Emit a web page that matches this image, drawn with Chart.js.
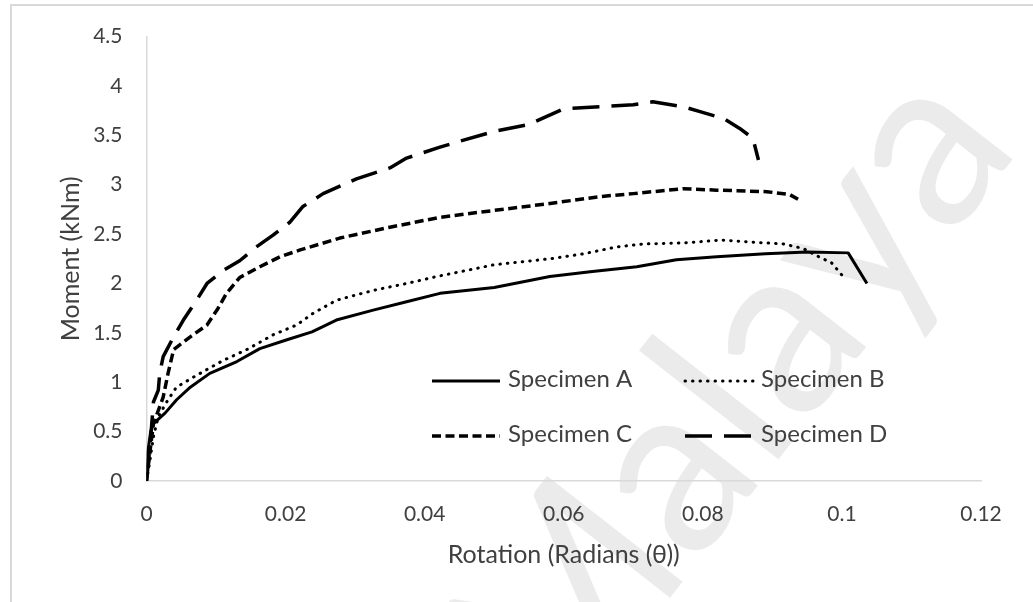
<!DOCTYPE html>
<html>
<head>
<meta charset="utf-8">
<script src="https://cdn.jsdelivr.net/npm/chart.js@4.4.1/dist/chart.umd.min.js"></script>
<style>
  html, body { margin: 0; padding: 0; background: #ffffff; }
  canvas { display: block; }
</style>
</head>
<body>
<canvas id="chart" width="1033" height="602" style="width:1033px;height:602px"></canvas>
<script>
// Axis ticks
const xTickValues = [0, 0.02, 0.04, 0.06, 0.08, 0.1, 0.12];
const xTickLabels = ['0', '0.02', '0.04', '0.06', '0.08', '0.1', '0.12'];
const yTickValues = [0, 0.5, 1, 1.5, 2, 2.5, 3, 3.5, 4, 4.5];
const yTickLabels = ['0', '0.5', '1', '1.5', '2', '2.5', '3', '3.5', '4', '4.5'];

// Series names
const seriesNames = ['Specimen A', 'Specimen B', 'Specimen C', 'Specimen D'];

// Moment-rotation readings: rotation (rad) and moment (kNm)
const specimenAX = [0, 0.0002, 0.0006, 0.001, 0.0027, 0.0043, 0.0063, 0.0091, 0.013, 0.0163, 0.0202, 0.0238, 0.0273, 0.0326, 0.0374, 0.0422, 0.05, 0.058, 0.0638, 0.0705, 0.0762, 0.082, 0.089, 0.095, 0.1009, 0.1036];
const specimenAY = [0, 0.3, 0.5, 0.58, 0.69, 0.82, 0.95, 1.09, 1.21, 1.34, 1.43, 1.51, 1.63, 1.73, 1.815, 1.9, 1.96, 2.07, 2.12, 2.17, 2.24, 2.27, 2.3, 2.32, 2.31, 2.0];

const specimenBX = [0, 0.0005, 0.001, 0.0017, 0.0029, 0.0043, 0.0072, 0.011, 0.0144, 0.0182, 0.0216, 0.024, 0.0273, 0.0326, 0.0374, 0.0417, 0.05, 0.058, 0.0628, 0.0676, 0.0714, 0.0772, 0.0827, 0.0868, 0.0916, 0.0944, 0.0964, 0.0985, 0.1];
const specimenBY = [0, 0.21, 0.45, 0.65, 0.8, 0.95, 1.07, 1.22, 1.33, 1.48, 1.58, 1.7, 1.83, 1.93, 2.0, 2.07, 2.19, 2.25, 2.3, 2.37, 2.4, 2.41, 2.44, 2.42, 2.4, 2.355, 2.28, 2.21, 2.085];

const specimenCX = [0, 0.0005, 0.001, 0.0024, 0.0031, 0.0039, 0.0063, 0.0087, 0.0103, 0.0115, 0.0134, 0.0163, 0.0192, 0.0221, 0.0278, 0.035, 0.0422, 0.05, 0.058, 0.0652, 0.07, 0.0772, 0.082, 0.0892, 0.0925, 0.094];
const specimenCY = [0, 0.3, 0.58, 0.85, 1.09, 1.33, 1.46, 1.58, 1.75, 1.9, 2.06, 2.17, 2.27, 2.34, 2.46, 2.57, 2.67, 2.74, 2.81, 2.88, 2.91, 2.96, 2.945, 2.93, 2.9, 2.84];

const specimenDX = [0, 0.0005, 0.001, 0.0017, 0.0019, 0.0024, 0.0039, 0.0053, 0.0072, 0.0087, 0.011, 0.0134, 0.0158, 0.0182, 0.0206, 0.0225, 0.0254, 0.0302, 0.035, 0.0374, 0.0422, 0.045, 0.05, 0.055, 0.06, 0.0652, 0.07, 0.0728, 0.0772, 0.0796, 0.083, 0.0853, 0.0872, 0.088];
const specimenDY = [0, 0.35, 0.8, 0.92, 1.09, 1.26, 1.46, 1.63, 1.83, 2.0, 2.13, 2.23, 2.37, 2.49, 2.62, 2.78, 2.91, 3.06, 3.17, 3.27, 3.38, 3.44, 3.54, 3.61, 3.77, 3.79, 3.81, 3.84, 3.79, 3.74, 3.67, 3.57, 3.47, 3.25];

const toPoints = (xs, ys) => xs.map((x, i) => ({ x: x, y: ys[i] }));

const FONT = 'Lato, "DejaVu Sans", sans-serif';
const TEXT = '#404040';
const AXIS = '#d9d9d9';

// White page, faint watermark and the outer frame
const pagePlugin = {
  id: 'page',
  beforeDraw(chart) {
    const ctx = chart.ctx;
    ctx.save();
    ctx.fillStyle = '#ffffff';
    ctx.fillRect(0, 0, chart.width, chart.height);
    ctx.translate(748, 352);
    ctx.rotate(-52 * Math.PI / 180);
    ctx.font = '240px ' + FONT;
    ctx.fillStyle = '#ebebeb';
    ctx.textAlign = 'right';
    ctx.textBaseline = 'alphabetic';
    ctx.fillText('University of Malaya', 330, 90);
    ctx.restore();

    ctx.save();
    ctx.strokeStyle = AXIS;
    ctx.lineWidth = 2;
    ctx.strokeRect(11, 5, 1200, 800);
    ctx.restore();
  }
};

// Two-column legend placed inside the plot area
const insideLegend = {
  id: 'insideLegend',
  afterDatasetsDraw(chart, args, opts) {
    const ctx = chart.ctx;
    chart.data.datasets.forEach((ds, i) => {
      const col = i % 2, row = Math.floor(i / 2);
      const x0 = opts.colX[col];
      const y = opts.rowY[row];
      ctx.save();
      ctx.strokeStyle = ds.borderColor;
      ctx.lineWidth = ds.borderWidth;
      ctx.lineCap = ds.borderCapStyle || 'butt';
      ctx.setLineDash(ds.borderDash || []);
      ctx.beginPath();
      ctx.moveTo(x0, y);
      ctx.lineTo(x0 + opts.sample, y);
      ctx.stroke();
      ctx.setLineDash([]);
      ctx.fillStyle = TEXT;
      ctx.font = opts.fontSize + 'px ' + FONT;
      ctx.textAlign = 'left';
      ctx.textBaseline = 'middle';
      ctx.fillText(ds.label, x0 + opts.sample + opts.gap, y + opts.textDy);
      ctx.restore();
    });
  }
};

new Chart(document.getElementById('chart'), {
  type: 'scatter',
  data: {
    datasets: [
      { label: seriesNames[0], data: toPoints(specimenAX, specimenAY),
        borderColor: '#000000', borderWidth: 3, borderDash: [], borderCapStyle: 'butt' },
      { label: seriesNames[1], data: toPoints(specimenBX, specimenBY),
        borderColor: '#000000', borderWidth: 3, borderDash: [0.5, 7], borderCapStyle: 'round' },
      { label: seriesNames[2], data: toPoints(specimenCX, specimenCY),
        borderColor: '#000000', borderWidth: 3.5, borderDash: [9, 4.5], borderCapStyle: 'butt' },
      { label: seriesNames[3], data: toPoints(specimenDX, specimenDY),
        borderColor: '#000000', borderWidth: 3.5, borderDash: [27, 12], borderCapStyle: 'butt' }
    ].map(d => Object.assign(d, {
      showLine: true, pointRadius: 0, pointHoverRadius: 0, tension: 0,
      borderJoinStyle: 'round', fill: false
    }))
  },
  options: {
    responsive: false,
    animation: false,
    events: [],
    layout: { padding: { left: 52, right: 52, top: 36.5, bottom: 28 } },
    scales: {
      x: {
        type: 'linear', min: 0, max: 0.12,
        afterBuildTicks: s => { s.ticks = xTickValues.map(v => ({ value: v })); },
        afterFit: s => { s.height = 93; },
        ticks: {
          padding: 21, color: TEXT, font: { family: FONT, size: 21 },
          maxRotation: 0, autoSkip: false,
          callback: (v, i) => xTickLabels[i]
        },
        grid: { display: false, drawTicks: false },
        border: { display: true, color: AXIS, width: 1.5 },
        title: { display: true, text: 'Rotation (Radians (θ))', color: TEXT,
                 font: { family: FONT, size: 25 }, padding: { top: 4, bottom: 4 } }
      },
      y: {
        type: 'linear', min: 0, max: 4.5,
        afterBuildTicks: s => { s.ticks = yTickValues.map(v => ({ value: v })); },
        afterFit: s => { s.width = 94.5; },
        ticks: {
          padding: 24, color: TEXT, font: { family: FONT, size: 21 },
          autoSkip: false,
          callback: (v, i) => yTickLabels[i]
        },
        grid: { display: false, drawTicks: false },
        border: { display: true, color: AXIS, width: 1.5 },
        title: { display: true, text: 'Moment (kNm)', color: TEXT,
                 font: { family: FONT, size: 25 }, padding: { top: 4, bottom: 4 } }
      }
    },
    plugins: {
      legend: { display: false },
      tooltip: { enabled: false },
      insideLegend: { colX: [432, 685], rowY: [381, 436], sample: 68, gap: 8, fontSize: 24, textDy: -2 }
    }
  },
  plugins: [pagePlugin, insideLegend]
});
</script>
</body>
</html>
